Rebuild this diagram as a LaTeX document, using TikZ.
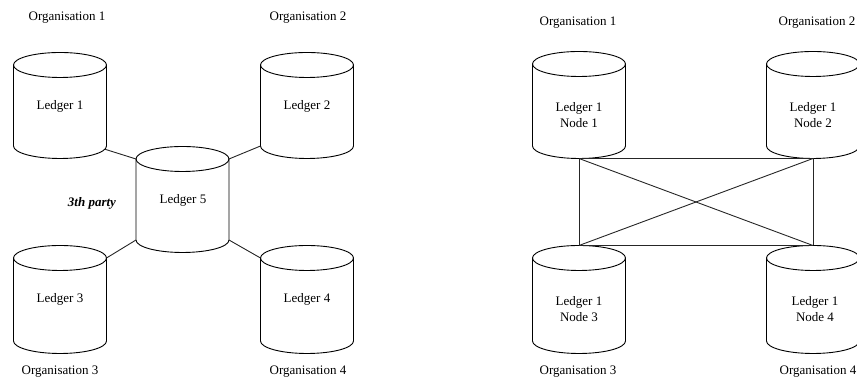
\documentclass[tikz,border=0pt]{standalone}
\usepackage{fontspec}
\setmainfont{Liberation Serif}
\tikzset{
  cylline/.style={line width=0.9pt, black},
  conn/.style={line width=0.9pt, black!85},
  lbl/.style={font=\fontsize{13}{16}\selectfont, inner sep=0pt, align=center},
}
\newcommand\mycyl[4]{% name, cx, topY, botY
  \draw[cylline] ({#2-46.5},#3) -- ({#2-46.5},#4)
     arc[start angle=180,end angle=360,x radius=46.5pt,y radius=12.5pt] -- ({#2+46.5},#3);
  \draw[cylline] (#2,#3) ellipse [x radius=46.5pt, y radius=12.5pt];
  \coordinate (#1-tl) at ({#2-46.5},#3);
  \coordinate (#1-tr) at ({#2+46.5},#3);
  \coordinate (#1-bl) at ({#2-46.5},#4);
  \coordinate (#1-br) at ({#2+46.5},#4);
  \coordinate (#1-tt) at (#2,{#3+12.5});
  \coordinate (#1-bb) at (#2,{#4-12.5});
  \coordinate (#1-bra) at ({#2+46.5*cos(-15)},{#4+12.5*sin(-15)});
}
\begin{document}
\begin{tikzpicture}[x=1pt,y=1pt]
\useasboundingbox (0,0) rectangle (857,379);
% left diagram
\mycyl{la}{60}{314}{233}
\mycyl{lb}{307}{314}{233}
\mycyl{le}{182.5}{220}{139}
\mycyl{lc}{60}{121}{38}
\mycyl{ld}{307}{121}{38}
\node[lbl] (tla) at (60,273) {Ledger 1};
\node[lbl] (tlb) at (307,273) {Ledger 2};
\node[lbl] (tle) at (183,179) {Ledger 5};
\node[lbl] (tlc) at (60,80) {Ledger 3};
\node[lbl] (tld) at (307,80) {Ledger 4};
\node[lbl, font=\fontsize{13}{16}\selectfont\bfseries\itshape] (party) at (92,176) {3th party};
\node[lbl] (oa) at (67,361) {Organisation 1};
\node[lbl] (ob) at (308,361) {Organisation 2};
\node[lbl] (oc) at (60,7) {Organisation 3};
\node[lbl] (od) at (308,7) {Organisation 4};
\draw[conn] (la-bra) -- (le-tl);
\draw[conn] (lb-bl) -- (le-tr);
\draw[conn] (le-bl) -- (lc-tr);
\draw[conn] (le-br) -- (ld-tl);
% right diagram
\mycyl{na}{579}{315}{233}
\mycyl{nb}{813}{315}{233}
\mycyl{nc}{579}{121}{38}
\mycyl{nd}{813}{121}{38}
\node[lbl] (tna) at (579,264) {Ledger 1\\Node 1};
\node[lbl] (tnb) at (813,264) {Ledger 1\\Node 2};
\node[lbl] (tnc) at (579,70) {Ledger 1\\Node 3};
\node[lbl] (tnd) at (815,70) {Ledger 1\\Node 4};
\node[lbl] (pa) at (578,356) {Organisation 1};
\node[lbl] (pb) at (817,356) {Organisation 2};
\node[lbl] (pc) at (578,7) {Organisation 3};
\node[lbl] (pd) at (818,7) {Organisation 4};
\draw[conn] (na-bb) -- (nb-bb);
\draw[conn] (nc-tt) -- (nd-tt);
\draw[conn] (na-bb) -- (nc-tt);
\draw[conn] (nb-bb) -- (nd-tt);
\draw[conn] (na-bb) -- (nd-tt);
\draw[conn] (nb-bb) -- (nc-tt);
\end{tikzpicture}
\end{document}
